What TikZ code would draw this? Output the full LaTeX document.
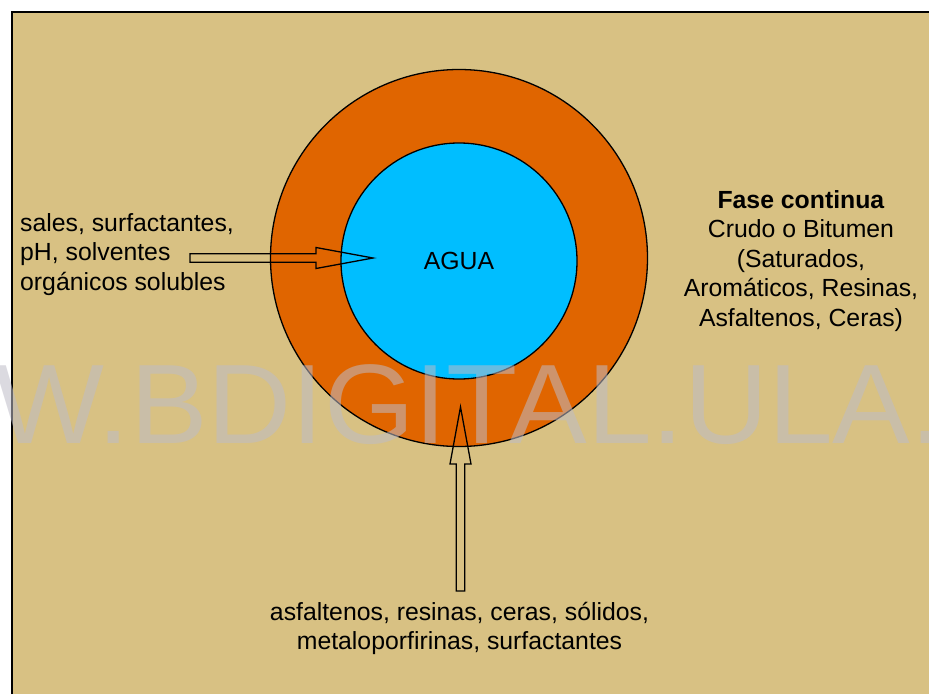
\documentclass[tikz,border=0pt]{standalone}
\usepackage{fontspec}
\setmainfont{Liberation Sans}
\definecolor{crudo}{RGB}{216,193,131}
\definecolor{interfase}{RGB}{224,101,0}
\definecolor{agua}{RGB}{0,190,255}
\definecolor{marca}{RGB}{190,188,200}
\tikzset{
    etiqueta/.style={inner sep=0pt,font={\fontsize{24.8}{29.5}\selectfont}},
    flecha/.style={line width=1.3pt,line join=miter},
}

\begin{document}
\begin{tikzpicture}[x=1pt,y=-1pt]

        % -----------
        % Parameters.
        % -----------

        % Constants.
        \pgfmathsetmacro{\xCenter}{459}          % x-position of drop centre.
        \pgfmathsetmacro{\yCenter}{258}          % y-position of drop centre.
        \pgfmathsetmacro{\radiusOuter}{188.5}    % Interface film radius.
        \pgfmathsetmacro{\radiusWater}{118}      % Water core radius.
        \pgfmathsetmacro{\shaftHalf}{4.2}        % Half width of arrow shaft.
        \pgfmathsetmacro{\headHalf}{10.5}        % Half width of arrow head.
        \pgfmathsetmacro{\headLength}{57}        % Length of arrow head.

        % Derived parameters.
        \pgfmathsetmacro{\yWater}{\yCenter+3}                   % y-position of water centre.
        \pgfmathsetmacro{\xLeftTail}{190}                       % x-position of left arrow tail.
        \pgfmathsetmacro{\xLeftTip}{373}                        % x-position of left arrow tip.
        \pgfmathsetmacro{\xLeftHead}{\xLeftTip-\headLength}     % x-position of left arrow head base.
        \pgfmathsetmacro{\xLow}{460.5}                          % x-position of lower arrow.
        \pgfmathsetmacro{\yLowTail}{591}                        % y-position of lower arrow tail.
        \pgfmathsetmacro{\yLowTip}{407}                         % y-position of lower arrow tip.
        \pgfmathsetmacro{\yLowHead}{\yLowTip+\headLength}       % y-position of lower arrow head base.

        % --------
        % Drawing.
        % --------

        % Page and frame.
        \useasboundingbox (0,0) rectangle (929,694);
        \clip (0,0) rectangle (929,694);
        \fill[white](0,0)rectangle(929,694);
        \fill[crudo](12,12)rectangle(929,694);
        \draw[line width=2pt](12,694)--(12,12)--(929,12);

        % Interface film and water core.
        \draw[line width=1.3pt,fill=interfase](\xCenter,\yCenter)circle(\radiusOuter);
        \draw[line width=1.3pt,fill=agua](\xCenter,\yWater)circle(\radiusWater);
        \node[etiqueta] (agua) at (\xCenter,\yWater) {AGUA};

        % Water-soluble agents and left arrow.
        \node[etiqueta,align=left,anchor=west] (solubles) at (20,254.5) {sales, surfactantes,\\pH, solventes\\orgánicos solubles};
        \coordinate (leftTail) at (\xLeftTail,258);
        \coordinate (leftTip) at (\xLeftTip,258);
        \draw[flecha](leftTail)++(0,-\shaftHalf)--(\xLeftHead,258-\shaftHalf)--(\xLeftHead,258-\headHalf)
            --(leftTip)--(\xLeftHead,258+\headHalf)--(\xLeftHead,258+\shaftHalf)--(\xLeftTail,258+\shaftHalf)--cycle;

        % Continuous phase.
        \node[etiqueta,align=center] (fase) at (801,261) {\textbf{Fase continua}\\Crudo o Bitumen\\(Saturados,\\Aromáticos, Resinas,\\Asfaltenos, Ceras)};

        % Oil-soluble agents and lower arrow.
        \node[etiqueta,align=center] (aceite) at (459.5,628.5) {asfaltenos, resinas, ceras, sólidos,\\metaloporfirinas, surfactantes};
        \coordinate (lowTail) at (\xLow,\yLowTail);
        \coordinate (lowTip) at (\xLow,\yLowTip);
        \draw[flecha](lowTail)++(-\shaftHalf,0)--(\xLow-\shaftHalf,\yLowHead)--(\xLow-\headHalf,\yLowHead)
            --(lowTip)--(\xLow+\headHalf,\yLowHead)--(\xLow+\shaftHalf,\yLowHead)--(\xLow+\shaftHalf,\yLowTail)--cycle;

        % Watermark.
        \node[inner sep=0pt,anchor=base west,text=marca,text opacity=0.55,font={\fontsize{113}{113}\selectfont}] (marca) at (-6,443) {\scalebox{1.03}[1]{W.BDIGITAL.ULA.}};

\end{tikzpicture}
\end{document}
